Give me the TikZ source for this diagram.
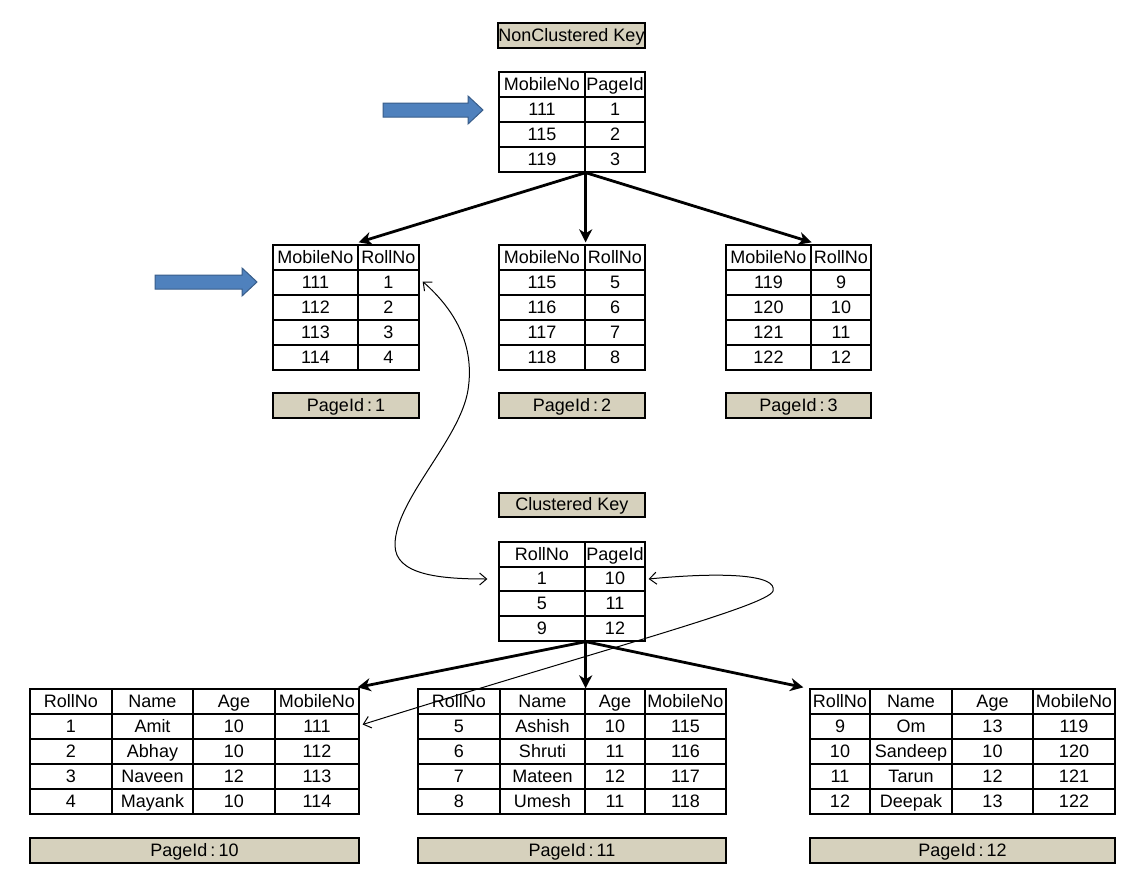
\documentclass[tikz,border=0pt]{standalone}
\usepackage{fontspec}
\setmainfont{Liberation Sans}
\usetikzlibrary{arrows.meta}
\definecolor{beige}{RGB}{214,209,189}
\definecolor{arrblue}{RGB}{79,129,189}
\definecolor{arrborder}{RGB}{56,93,138}
\newcommand\cellnode[7]{\node[#7, minimum width={(#3)-(#2)}, minimum height={(#5)-(#4)}] (#1) at ({((#2)+(#3))/2},{((#4)+(#5))/2}) {#6};}
\newcommand\trow[4]{\foreach \xa/\xb/\t [count=\i] in {#4} {\cellnode{#1-\i}{\xa}{\xb}{#2}{#3}{\t}{cellst}}}
\begin{document}
\begin{tikzpicture}[x=1pt,y=-1pt,
  cellst/.style={draw=black, line width=1.3pt, inner sep=0pt, text height=13pt, text depth=2pt, font=\fontsize{18}{20}\selectfont},
  lbl/.style={draw=black, fill=beige, line width=1.3pt, inner sep=0pt, text height=13pt, text depth=2pt, font=\fontsize{18}{20}\selectfont},
  bigarrow/.style={line width=2.8pt, -{Stealth[length=13pt,width=13pt,inset=4pt]}},
  linkarrow/.style={line width=1pt, {Straight Barb[length=7pt,width=12pt]}-{Straight Barb[length=7pt,width=12pt]}},
  bluearrow/.style={fill=arrblue, draw=arrborder, line width=1pt}]
\useasboundingbox (0,0) rectangle (1144,886);
\fill[white] (0,0) rectangle (1144,886);

% blue arrows
\draw[bluearrow] (383,103) -- (468,103) -- (468,96) -- (483,110) -- (468,124) -- (468,117) -- (383,117) -- cycle;
\draw[bluearrow] (155,275) -- (242,275) -- (242,268) -- (257,282) -- (242,296) -- (242,289) -- (155,289) -- cycle;

% NonClustered key table
\cellnode{lblNC}{498}{645}{23}{48}{NonClustered Key}{lbl}
\trow{t0}{72}{97}{499/585/MobileNo, 585/645/PageId}
\trow{t1}{97}{122}{499/585/111, 585/645/1}
\trow{t2}{122}{147}{499/585/115, 585/645/2}
\trow{t3}{147}{172}{499/585/119, 585/645/3}

% middle tables
\trow{a0}{245}{270}{273/358/MobileNo, 358/419/RollNo}
\trow{a1}{270}{295}{273/358/111, 358/419/1}
\trow{a2}{295}{320}{273/358/112, 358/419/2}
\trow{a3}{320}{345}{273/358/113, 358/419/3}
\trow{a4}{345}{370}{273/358/114, 358/419/4}
\cellnode{lblP1}{273}{419}{393}{418}{PageId\,:\,1}{lbl}

\trow{b0}{245}{270}{499/585/MobileNo, 585/645/RollNo}
\trow{b1}{270}{295}{499/585/115, 585/645/5}
\trow{b2}{295}{320}{499/585/116, 585/645/6}
\trow{b3}{320}{345}{499/585/117, 585/645/7}
\trow{b4}{345}{370}{499/585/118, 585/645/8}
\cellnode{lblP2}{499}{645}{393}{418}{PageId\,:\,2}{lbl}

\trow{c0}{245}{270}{726/811/MobileNo, 811/871/RollNo}
\trow{c1}{270}{295}{726/811/119, 811/871/9}
\trow{c2}{295}{320}{726/811/120, 811/871/10}
\trow{c3}{320}{345}{726/811/121, 811/871/11}
\trow{c4}{345}{370}{726/811/122, 811/871/12}
\cellnode{lblP3}{726}{871}{393}{418}{PageId\,:\,3}{lbl}

% clustered key table
\cellnode{lblCK}{499}{645}{493}{517}{Clustered Key}{lbl}
\trow{k0}{542}{567}{499/585/RollNo, 585/645/PageId}
\trow{k1}{567}{591}{499/585/1, 585/645/10}
\trow{k2}{591}{616}{499/585/5, 585/645/11}
\trow{k3}{616}{641}{499/585/9, 585/645/12}

% bottom tables
\trow{p0}{689}{714}{30/112/RollNo, 112/193/Name, 193/275/Age, 275/359/MobileNo}
\trow{p1}{714}{739}{30/112/1, 112/193/Amit, 193/275/10, 275/359/111}
\trow{p2}{739}{764}{30/112/2, 112/193/Abhay, 193/275/10, 275/359/112}
\trow{p3}{764}{789}{30/112/3, 112/193/Naveen, 193/275/12, 275/359/113}
\trow{p4}{789}{814}{30/112/4, 112/193/Mayank, 193/275/10, 275/359/114}
\cellnode{lblP10}{30}{359}{838}{863}{PageId\,:\,10}{lbl}

\trow{q0}{689}{714}{418/500/RollNo, 500/585/Name, 585/645/Age, 645/726/MobileNo}
\trow{q1}{714}{739}{418/500/5, 500/585/Ashish, 585/645/10, 645/726/115}
\trow{q2}{739}{764}{418/500/6, 500/585/Shruti, 585/645/11, 645/726/116}
\trow{q3}{764}{789}{418/500/7, 500/585/Mateen, 585/645/12, 645/726/117}
\trow{q4}{789}{814}{418/500/8, 500/585/Umesh, 585/645/11, 645/726/118}
\cellnode{lblP11}{418}{726}{838}{863}{PageId\,:\,11}{lbl}

\trow{r0}{689}{714}{810/870/RollNo, 870/952/Name, 952/1033/Age, 1033/1115/MobileNo}
\trow{r1}{714}{739}{810/870/9, 870/952/Om, 952/1033/13, 1033/1115/119}
\trow{r2}{739}{764}{810/870/10, 870/952/Sandeep, 952/1033/10, 1033/1115/120}
\trow{r3}{764}{789}{810/870/11, 870/952/Tarun, 952/1033/12, 1033/1115/121}
\trow{r4}{789}{814}{810/870/12, 870/952/Deepak, 952/1033/13, 1033/1115/122}
\cellnode{lblP12}{810}{1115}{838}{863}{PageId\,:\,12}{lbl}

% tree arrows
\draw[bigarrow] (t3-1.south east) -- ([yshift=2pt]a0-1.north east);
\draw[bigarrow] (t3-1.south east) -- ([yshift=2pt]b0-1.north east);
\draw[bigarrow] (t3-1.south east) -- ([yshift=2pt]c0-1.north east);
\draw[bigarrow] (k3-1.south east) -- ([xshift=-2pt,yshift=1pt]p0-4.north east);
\draw[bigarrow] (k3-1.south east) -- (q0-2.north east);
\draw[bigarrow] (k3-1.south east) -- ([xshift=-6pt,yshift=1pt]r0-1.north west);

% link curves
\draw[linkarrow] ([xshift=3pt,yshift=1pt]a1-2.east) .. controls (455,310) and (475,345) .. (468,390)
   .. controls (460,440) and (395,500) .. (395,545)
   .. controls (395,575) and (440,579) .. ([xshift=-11pt]k1-1.west);
\draw[linkarrow] ([xshift=3pt]k1-2.east) .. controls (720,572) and (778,574) .. (773,591)
   .. controls (768,606) and (600,650) .. ([xshift=3pt,yshift=2pt]p1-4.east);
\end{tikzpicture}
\end{document}
